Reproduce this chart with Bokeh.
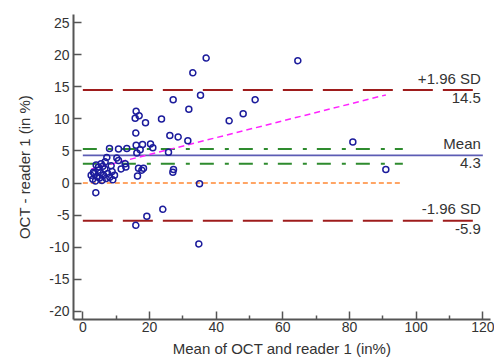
from bokeh.plotting import figure
from bokeh.models import Range1d, FixedTicker, ColumnDataSource
from bokeh.core.properties import value
from bokeh.embed import file_html
from bokeh.resources import INLINE

# ---- data ----
mean_x = [64.5, 37.0, 33.0, 35.3, 27.1, 51.7, 31.8, 48.1, 23.6, 43.9,
          16.0, 16.9, 15.7, 18.8, 15.9, 26.1, 28.6, 31.5, 81.0, 90.9,
          8.0, 10.7, 13.2, 16.0, 17.9, 20.3, 21.0, 17.2, 16.2, 25.7,
          10.7, 10.2, 6.7, 7.2, 12.9, 16.7, 18.2, 27.2, 27.0, 16.4,
          12.7, 4.7, 3.2, 17.7,
          35.0, 3.9, 24.0, 19.2, 15.9, 34.8,
          2.5, 3.0, 3.4, 3.8, 4.2, 4.6, 5.0, 5.3, 5.8, 6.2,
          6.6, 7.0, 7.5, 8.1, 8.8, 9.5, 4.0, 5.5, 6.0, 8.5, 9.0, 11.5]
diff_y = [19.1, 19.5, 17.2, 13.7, 13.0, 13.0, 11.5, 10.8, 10.0, 9.7,
          11.2, 10.5, 10.1, 9.4, 7.8, 7.4, 7.2, 6.6, 6.4, 2.1,
          5.4, 5.3, 5.4, 5.9, 6.0, 6.1, 5.5, 5.2, 4.7, 4.8,
          3.5, 3.9, 3.3, 4.0, 2.5, 2.3, 2.3, 2.1, 1.7, 1.1,
          3.0, 2.5, 1.7, 2.0,
          -0.1, -1.5, -4.1, -5.2, -6.6, -9.5,
          1.2, 0.6, 1.5, 0.3, 1.0, 2.0, 0.8, 1.6, 0.4, 1.2,
          2.2, 0.7, 1.5, 0.9, 1.8, 1.2, 2.8, 3.0, 2.6, 2.7, 0.5, 2.2]

bias = 4.3
upper_loa = 14.5
lower_loa = -5.9
ci_mean_upper = 5.3
ci_mean_lower = 3.0
reg_intercept = 1.84
reg_slope = 0.131
line_start = 0
loa_line_end = 120
ci_line_end = 96

x_ticks = [0, 20, 40, 60, 80, 100, 120]
x_minor_ticks = [10, 30, 50, 70, 90, 110]
y_ticks = [-20, -15, -10, -5, 0, 5, 10, 15, 20, 25]

label_upper = ["+1.96 SD", "14.5"]
label_mean = ["Mean", "4.3"]
label_lower = ["-1.96 SD", "-5.9"]

FONT = "Liberation Sans"

p = figure(width=494, height=360,
           x_range=Range1d(-2.8, 122.3), y_range=Range1d(-21.3, 26.3),
           output_backend="svg", toolbar_location=None,
           min_border_left=73, min_border_right=4, min_border_top=14,
           min_border_bottom=41)
p.outline_line_color = None
p.grid.visible = False
p.background_fill_color = "white"

axis_col = "#555555"
for ax in (p.xaxis[0], p.yaxis[0]):
    ax.axis_line_color = axis_col
    ax.axis_line_width = 2
    ax.major_tick_line_color = axis_col
    ax.major_tick_line_width = 1.5
    ax.major_tick_in = 8
    ax.major_tick_out = 0
    ax.major_label_text_font = FONT
    ax.major_label_text_font_size = "14px"
    ax.major_label_text_color = "#333333"
    ax.axis_label_text_font = FONT
    ax.axis_label_text_font_size = "15px"
    ax.axis_label_text_font_style = "normal"
    ax.axis_label_text_color = "#333333"

p.xaxis.ticker = FixedTicker(ticks=x_ticks, minor_ticks=x_minor_ticks)
p.xaxis.minor_tick_line_color = axis_col
p.xaxis.minor_tick_line_width = 1.5
p.xaxis.minor_tick_in = 4
p.xaxis.minor_tick_out = 0
p.xaxis.major_label_standoff = 2
p.xaxis.axis_label_standoff = 5
p.xaxis.axis_label = "Mean of OCT and reader 1 (in%)"

p.yaxis.ticker = FixedTicker(ticks=y_ticks, minor_ticks=[])
p.yaxis.minor_tick_line_color = None
p.yaxis.major_label_standoff = 4
p.yaxis.axis_label_standoff = 13
p.yaxis.axis_label = "OCT - reader 1 (in %)"
p.yaxis.major_label_overrides = {t: str(t) for t in y_ticks}

# reference lines
p.line([line_start, ci_line_end], [0, 0], line_color="#ff8833",
       line_width=1.5, line_dash="5 3")
p.line([line_start, ci_line_end], [ci_mean_upper, ci_mean_upper],
       line_color="#2e8b2e", line_width=2, line_dash="14 11 4 10")
p.line([line_start, ci_line_end], [ci_mean_lower, ci_mean_lower],
       line_color="#2e8b2e", line_width=2, line_dash="14 11 4 10")
p.line([line_start, loa_line_end], [bias, bias], line_color="#5c5cb4",
       line_width=1.8)
p.line([line_start, loa_line_end], [upper_loa, upper_loa],
       line_color="#9e1c1c", line_width=2, line_dash="30 10")
p.line([line_start, loa_line_end], [lower_loa, lower_loa],
       line_color="#9e1c1c", line_width=2, line_dash="30 10")

# regression line
rx = [min(mean_x), max(mean_x)]
ry = [reg_intercept + reg_slope * v for v in rx]
p.line(rx, ry, line_color="#ff22ff", line_width=1.5, line_dash="6 4")

# points
src = ColumnDataSource(dict(x=mean_x, y=diff_y))
p.scatter("x", "y", source=src, marker="circle", size=6,
          fill_color=None, line_color="#1c1c9c", line_width=1.5)

# labels
above = ColumnDataSource(dict(x=[loa_line_end] * 3,
                              y=[upper_loa, bias, lower_loa],
                              t=[label_upper[0], label_mean[0], label_lower[0]]))
below = ColumnDataSource(dict(x=[loa_line_end] * 3,
                              y=[upper_loa, bias, lower_loa],
                              t=[label_upper[1], label_mean[1], label_lower[1]]))
p.text("x", "y", text="t", source=above, text_align="right",
       text_baseline="alphabetic", x_offset=-2, y_offset=-12,
       text_font=value(FONT), text_font_size="15px", text_color="#333333")
p.text("x", "y", text="t", source=below, text_align="right",
       text_baseline="top", x_offset=-2, y_offset=3,
       text_font=value(FONT), text_font_size="15px", text_color="#333333")

open("out.html", "w").write(file_html(p, INLINE))
